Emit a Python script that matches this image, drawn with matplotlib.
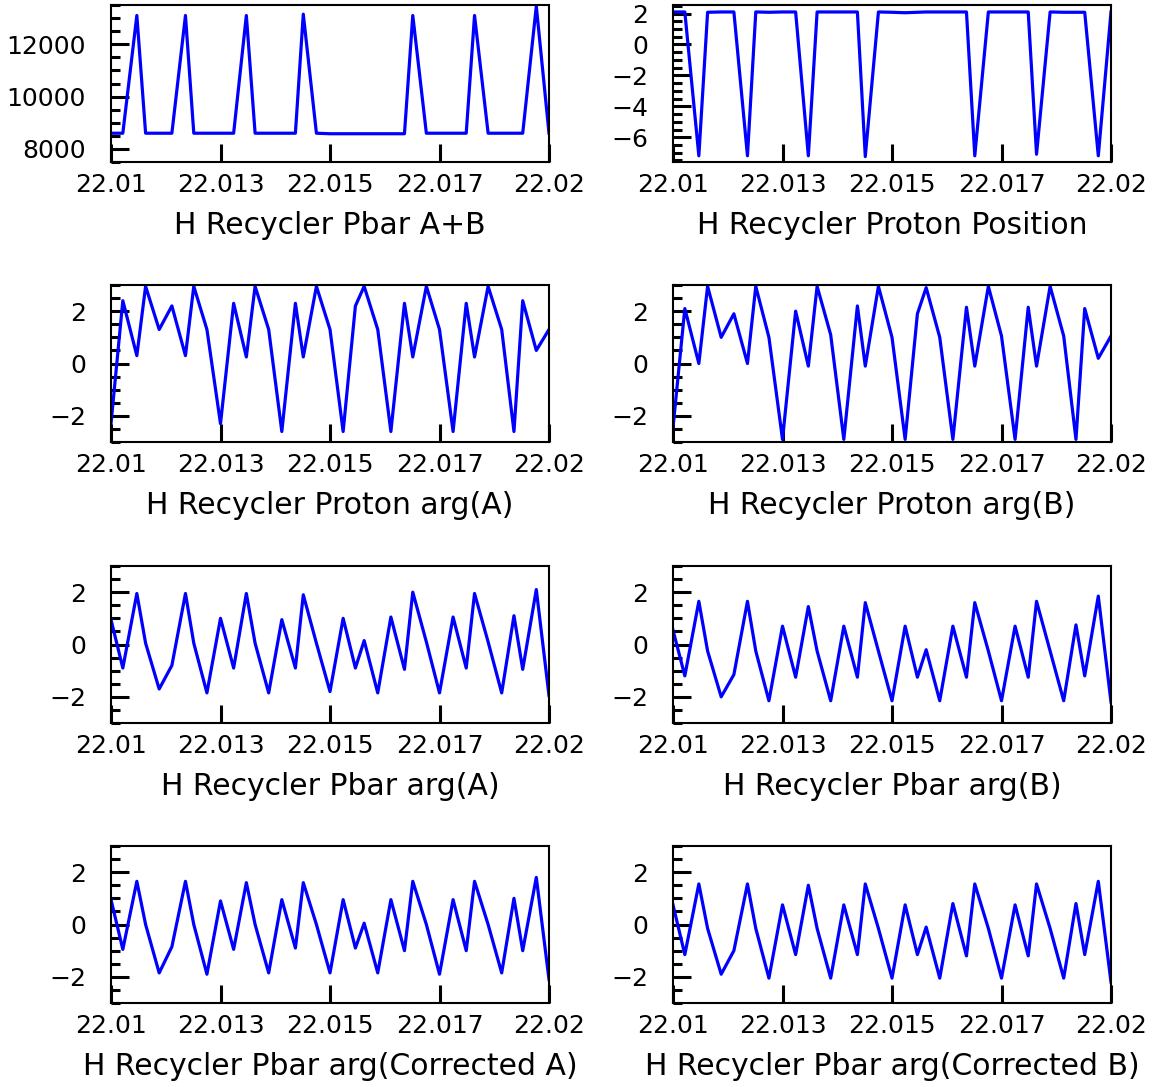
import matplotlib
matplotlib.use("Agg")
import matplotlib.pyplot as plt
from matplotlib.ticker import FixedLocator, FixedFormatter, MultipleLocator

# sample times (shared by all panels)
t = [22.01000, 22.01027, 22.01059, 22.01079, 22.01110, 22.01139, 22.01170, 22.01189,
     22.01219, 22.01250, 22.01280, 22.01309, 22.01329, 22.01360, 22.01390, 22.01421,
     22.01439, 22.01469, 22.01500, 22.01530, 22.01558, 22.01578, 22.01609, 22.01639,
     22.01670, 22.01689, 22.01720, 22.01750, 22.01781, 22.01811, 22.01830, 22.01861,
     22.01892, 22.01920, 22.01940, 22.01971, 22.02000]

pbar_ab = [8600, 8600, 13100, 8600, 8600, 8600, 13100, 8600, 8600, 8600, 8600, 13100,
           8600, 8600, 8600, 8600, 13150, 8600, 8580, 8580, 8580, 8580, 8580, 8580,
           8580, 13100, 8600, 8600, 8600, 8600, 13100, 8600, 8600, 8600, 8600, 13450, 8600]

proton_pos = [2.1, 2.1, -7.2, 2.08, 2.1, 2.1, -7.2, 2.1, 2.08, 2.1, 2.1, -7.2,
              2.1, 2.1, 2.1, 2.1, -7.25, 2.1, 2.08, 2.05, 2.08, 2.1, 2.1, 2.1,
              2.1, -7.2, 2.1, 2.1, 2.1, 2.1, -7.1, 2.1, 2.08, 2.08, 2.08, -7.2, 2.1]

proton_arg_a = [-2.3, 2.4, 0.3, 2.95, 1.3, 2.2, 0.3, 2.95, 1.3, -2.3, 2.3, 0.25,
                2.95, 1.3, -2.6, 2.3, 0.25, 2.95, 1.3, -2.6, 2.2, 2.95, 1.3, -2.6,
                2.3, 0.25, 2.95, 1.3, -2.6, 2.3, 0.25, 2.95, 1.3, -2.6, 2.4, 0.5, 1.3]

proton_arg_b = [-2.45, 2.1, 0.0, 2.95, 1.0, 1.9, 0.0, 2.95, 1.0, -2.9, 2.0, -0.1,
                2.95, 1.1, -2.9, 2.2, -0.1, 2.95, 1.0, -2.9, 1.9, 2.9, 1.0, -2.9,
                2.15, -0.1, 2.95, 1.05, -2.9, 2.15, -0.1, 2.95, 1.05, -2.9, 2.1, 0.2, 1.05]

pbar_arg_a = [0.95, -0.9, 1.95, 0.05, -1.7, -0.8, 1.95, 0.05, -1.85, 1.0, -0.9, 1.95,
              0.05, -1.85, 0.95, -0.9, 1.9, 0.05, -1.8, 1.0, -0.9, 0.15, -1.85, 1.05,
              -0.95, 2.0, 0.1, -1.85, 1.05, -0.9, 1.95, 0.1, -1.85, 1.1, -0.95, 2.1, -1.95]

pbar_arg_b = [0.55, -1.2, 1.65, -0.25, -2.0, -1.15, 1.65, -0.25, -2.15, 0.7, -1.25, 1.45,
              -0.25, -2.15, 0.7, -1.25, 1.6, -0.25, -2.15, 0.7, -1.25, -0.2, -2.15, 0.7,
              -1.25, 1.6, -0.25, -2.15, 0.7, -1.25, 1.65, -0.25, -2.15, 0.75, -1.2, 1.85, -2.2]

pbar_corr_a = [0.95, -0.95, 1.65, 0.0, -1.85, -0.85, 1.65, 0.0, -1.9, 0.9, -0.95, 1.6,
               0.0, -1.85, 0.95, -0.9, 1.6, 0.0, -1.85, 0.95, -0.9, 0.05, -1.85, 0.95,
               -1.0, 1.65, 0.0, -1.9, 0.95, -1.0, 1.65, 0.0, -1.85, 1.0, -1.0, 1.8, -2.1]

pbar_corr_b = [0.75, -1.15, 1.55, -0.15, -1.9, -1.0, 1.55, -0.15, -2.05, 0.75, -1.15, 1.5,
               -0.15, -2.05, 0.75, -1.15, 1.55, -0.15, -2.05, 0.75, -1.15, -0.1, -2.05, 0.8,
               -1.2, 1.55, -0.15, -2.05, 0.75, -1.2, 1.55, -0.15, -2.05, 0.8, -1.15, 1.65, -2.2]

xtick_pos = [22.01, 22.0125, 22.015, 22.0175, 22.02]
xtick_labels = ["22.01", "22.013", "22.015", "22.017", "22.02"]

titles = ["H Recycler Pbar A+B", "H Recycler Proton Position",
          "H Recycler Proton arg(A)", "H Recycler Proton arg(B)",
          "H Recycler Pbar arg(A)", "H Recycler Pbar arg(B)",
          "H Recycler Pbar arg(Corrected A)", "H Recycler Pbar arg(Corrected B)"]
series = [pbar_ab, proton_pos, proton_arg_a, proton_arg_b,
          pbar_arg_a, pbar_arg_b, pbar_corr_a, pbar_corr_b]

W, H = 1165, 1087
fig = plt.figure(figsize=(W / 100, H / 100), dpi=100)

col_left = [111, 673]
col_width = 438
row_top = [5, 285, 566, 846]
row_height = 157

for i, (y, title) in enumerate(zip(series, titles)):
    r, c = divmod(i, 2)
    ax = fig.add_axes([col_left[c] / W, 1 - (row_top[r] + row_height) / H,
                       col_width / W, row_height / H])
    ax.plot(t, y, color="#0000ff", lw=2.3)
    ax.set_xlim(22.01, 22.02)
    if i == 0:
        ax.set_ylim(7500, 13500)
        ax.yaxis.set_major_locator(MultipleLocator(2000))
        ax.yaxis.set_minor_locator(MultipleLocator(500))
    elif i == 1:
        ax.set_ylim(-7.6, 2.55)
        ax.yaxis.set_major_locator(MultipleLocator(2))
        ax.yaxis.set_minor_locator(MultipleLocator(0.5))
    else:
        ax.set_ylim(-3, 3)
        ax.yaxis.set_major_locator(MultipleLocator(2))
        ax.yaxis.set_minor_locator(MultipleLocator(0.5))
    ax.xaxis.set_major_locator(FixedLocator(xtick_pos))
    ax.xaxis.set_major_formatter(FixedFormatter(xtick_labels))
    ax.tick_params(axis="both", which="major", direction="in", length=13, width=2.2,
                   labelsize=18, top=False, right=False)
    ax.tick_params(axis="y", which="major", pad=18)
    ax.tick_params(axis="x", which="major", pad=8)
    ax.tick_params(axis="y", which="minor", direction="in", length=6.5, width=2.2,
                   right=False)
    for s in ax.spines.values():
        s.set_linewidth(1.5)
    ax.set_xlabel(title, fontsize=21.5, labelpad=10)

fig.savefig("out.png", dpi=100)
